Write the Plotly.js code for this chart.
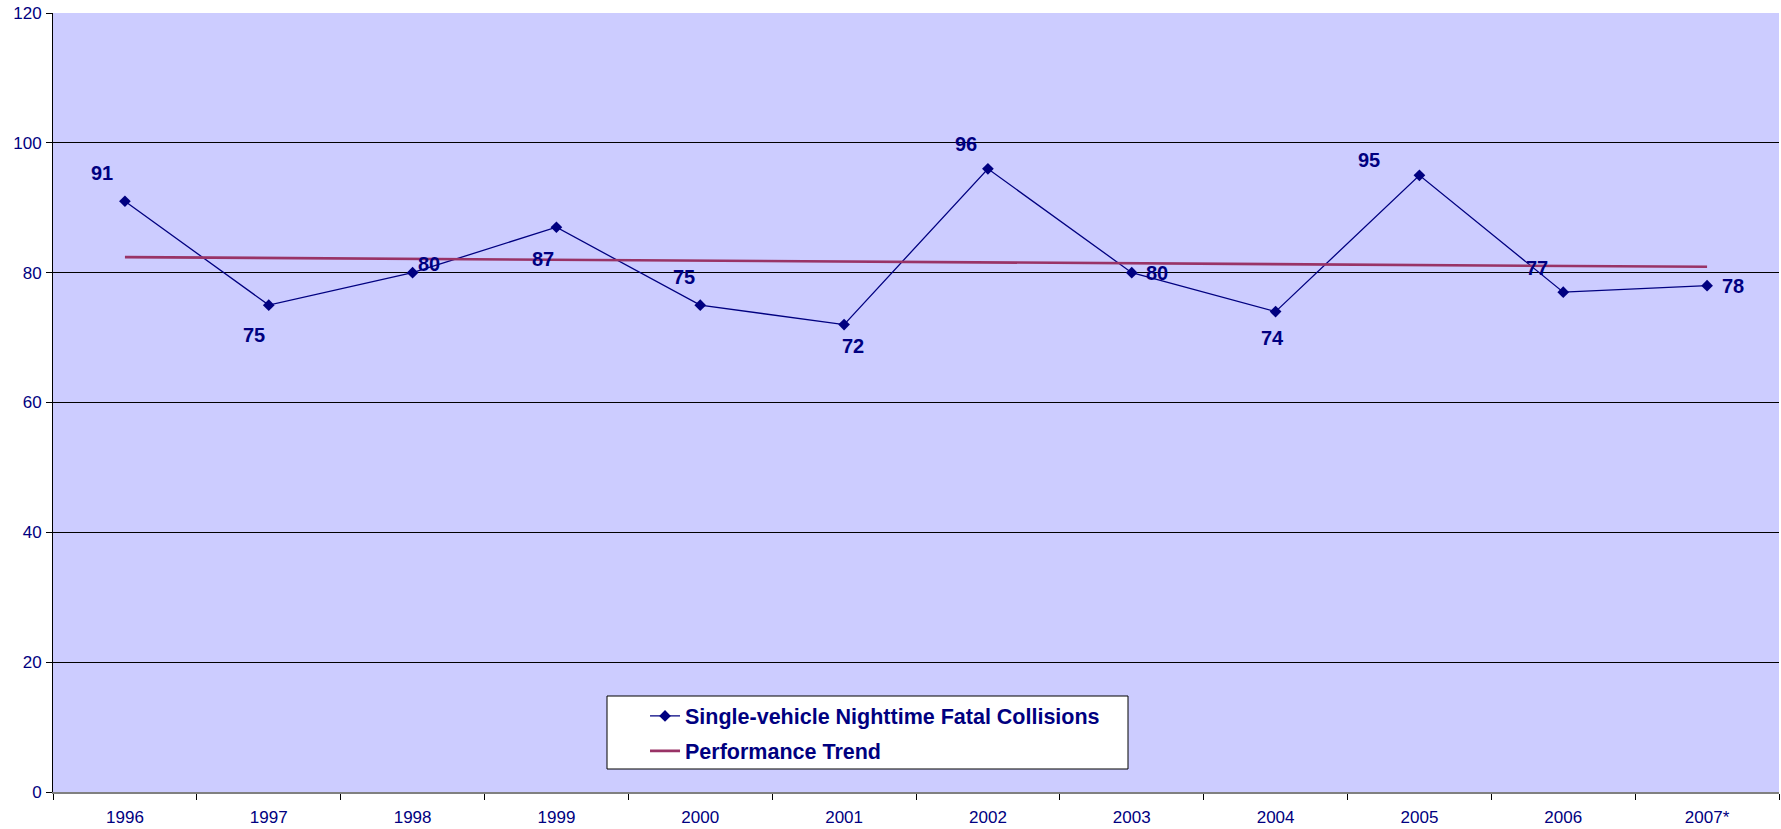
<!DOCTYPE html>
<html>
<head>
<meta charset="utf-8">
<script src="https://cdn.plot.ly/plotly-3.0.1.min.js"></script>
<style>
  html, body { margin: 0; padding: 0; background: #ffffff; }
  #plot { width: 1781px; height: 829px; }
</style>
</head>
<body>
<div id="plot"></div>
<script>
// chart data
var years = ['1996', '1997', '1998', '1999', '2000', '2001', '2002', '2003', '2004', '2005', '2006', '2007*'];
var collisions = [91, 75, 80, 87, 75, 72, 96, 80, 74, 95, 77, 78];
var trendYears = ['1996', '2007*'];
var trendValues = [82.4, 80.9];
var yTicks = [0, 20, 40, 60, 80, 100, 120];

// where each value label sits relative to its point (pixels, right / up)
var labelShift = [
    [-23, 28], [-15, -30], [16, 9], [-13, -32], [-16, 28], [9, -21],
    [-22, 25], [25, 0], [-3, -26], [-50, 15], [-26, 24], [26, 0]
];

var navy = '#000080';
var font = 'Arial, "Liberation Sans", sans-serif';

function initPlot() {
    var data = [{
        x: years,
        y: collisions,
        type: 'scatter',
        mode: 'lines+markers',
        name: 'Single-vehicle Nighttime Fatal Collisions',
        line: { color: navy, width: 1.3 },
        marker: { symbol: 'diamond', size: 9, color: navy },
        legendgroup: 'a',
        hoverinfo: 'x+y'
    }, {
        x: trendYears,
        y: trendValues,
        type: 'scatter',
        mode: 'lines',
        name: 'Performance Trend',
        line: { color: '#993366', width: 2.6 },
        legendgroup: 'b',
        hoverinfo: 'skip'
    }];

    // category axis: annotations are placed by category index
    var annotations = collisions.map(function (v, i) {
        return {
            x: years.indexOf(years[i]),
            y: v,
            xref: 'x',
            yref: 'y',
            text: String(v),
            showarrow: false,
            xshift: labelShift[i][0],
            yshift: labelShift[i][1],
            font: { family: font, size: 20, color: navy, weight: 'bold' }
        };
    });

    var layout = {
        width: 1781,
        height: 829,
        margin: { l: 53, r: 2, t: 13, b: 37 },
        paper_bgcolor: '#ffffff',
        plot_bgcolor: '#CCCCFF',
        font: { family: font, color: navy },
        showlegend: true,
        legend: {
            x: 0.343,
            y: 0.124,
            xanchor: 'left',
            yanchor: 'top',
            bgcolor: 'rgba(0,0,0,0)',
            borderwidth: 0,
            traceorder: 'grouped',
            tracegroupgap: 4,
            font: { family: font, size: 21.5, color: navy, weight: 'bold' }
        },
        shapes: [{
            type: 'rect',
            xref: 'paper',
            yref: 'paper',
            x0: (607 - 53) / 1726,
            x1: (1128 - 53) / 1726,
            y0: (792 - 769) / 779,
            y1: (792 - 696) / 779,
            fillcolor: '#ffffff',
            line: { color: '#000000', width: 1 },
            layer: 'above'
        }],
        xaxis: {
            type: 'category',
            range: [-0.5, 11.5],
            showgrid: false,
            tickson: 'boundaries',
            ticks: 'outside',
            ticklen: 6,
            tickcolor: '#000000',
            tickwidth: 1,
            showline: true,
            linecolor: '#808080',
            linewidth: 2,
            ticklabelstandoff: 9,
            tickfont: { family: font, size: 17, color: navy },
            fixedrange: true
        },
        yaxis: {
            range: [0, 120],
            tickvals: yTicks,
            showgrid: true,
            gridcolor: '#000000',
            gridwidth: 1,
            zeroline: false,
            ticks: 'outside',
            ticklen: 6,
            tickcolor: '#000000',
            showline: true,
            linecolor: '#000000',
            linewidth: 1,
            ticklabelstandoff: 1,
            tickfont: { family: font, size: 17, color: navy },
            fixedrange: true
        },
        annotations: annotations
    };

    Plotly.newPlot('plot', data, layout, { displayModeBar: false, staticPlot: true });
}

document.addEventListener('DOMContentLoaded', function () {
    initPlot();
});
</script>
</body>
</html>
